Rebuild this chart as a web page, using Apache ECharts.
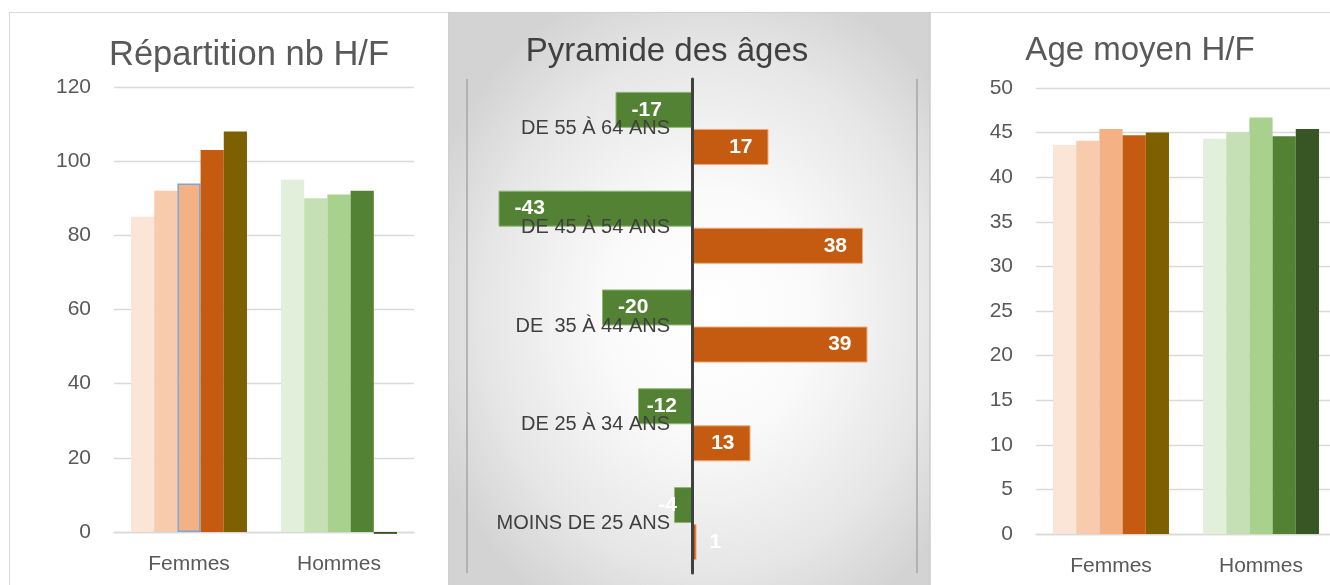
<!DOCTYPE html>
<html>
<head>
<meta charset="utf-8">
<script src="https://cdn.jsdelivr.net/npm/echarts@6/dist/echarts.min.js"></script>
<style>
  html, body { margin: 0; padding: 0; background: #fff; overflow: hidden; width: 1330px; height: 585px; }
  .panel { position: absolute; top: 12px; height: 600px; border: 1px solid #d9d9d9; box-sizing: border-box; }
  #nb { left: 9px; width: 440px; background: #fff; }
  #pyr { left: 448px; width: 482px; border-color: #cfcfcf;
         background: radial-gradient(ellipse 62% 58% at 54% 50%, #ffffff 0%, #fafafa 35%, #e6e6e6 75%, #d3d3d3 100%); }
  #age { left: 930px; width: 430px; background: #fff; }
</style>
</head>
<body>
<div id="nb" class="panel"></div>
<div id="pyr" class="panel"></div>
<div id="age" class="panel"></div>
<script>
// categories
var sexes = ['Femmes', 'Hommes'];
var tranches = ['MOINS DE 25 ANS', 'DE 25 À 34 ANS', 'DE  35 À 44 ANS', 'DE 45 À 54 ANS', 'DE 55 À 64 ANS'];

// Répartition nb H/F (5 séries par sexe)
var nbFemmes = [85, 92, 94, 103, 108];
var nbHommes = [95, 90, 91, 92, -0.5];

// Age moyen H/F
var ageFemmes = [43.6, 44.1, 45.4, 44.7, 45.0];
var ageHommes = [44.3, 45.0, 46.7, 44.6, 45.4];

// Pyramide des âges
var pyrHommes = [-4, -12, -20, -43, -17];
var pyrFemmes = [1, 13, 39, 38, 17];

// tick labels
var nbTicks = [0, 20, 40, 60, 80, 100, 120];
var ageTicks = [0, 5, 10, 15, 20, 25, 30, 35, 40, 45, 50];

var FONT = 'Liberation Sans';
var colFemmes = ['#FBE5D6', '#F8CBAD', '#F4B183', '#C55A11', '#7F6000'];
var colHommes = ['#E2EFDA', '#C5E0B4', '#A9D18E', '#548235', '#375623'];

function groupSeries(fem, hom, selected) {
    var series = [];
    for (var i = 0; i < fem.length; i++) {
        var femItem = {value: fem[i], itemStyle: {color: colFemmes[i]}};
        if (i === selected) {
            femItem.itemStyle.borderColor = '#7aa6d6';
            femItem.itemStyle.borderWidth = 1.5;
        }
        series.push({
            name: 'Série ' + (i + 1),
            type: 'bar',
            barGap: 0,
            barCategoryGap: '22.7%',
            clip: false,
            data: [femItem, {value: hom[i], itemStyle: {color: colHommes[i]}}]
        });
    }
    return series;
}

function columnChart(id, titleText, titleSize, titleX, titleY, grid, ticks, fem, hom, selected) {
    var chart = echarts.init(document.getElementById(id));
    chart.setOption({
        backgroundColor: 'transparent',
        animation: false,
        title: {
            text: titleText,
            left: titleX,
            top: titleY,
            textAlign: 'center',
            padding: 0,
            textStyle: {fontFamily: FONT, fontSize: titleSize, fontWeight: 'normal', color: '#595959'}
        },
        grid: grid,
        xAxis: {
            type: 'category',
            data: sexes,
            axisLine: {lineStyle: {color: '#d9d9d9', width: 1.3}},
            axisTick: {show: false},
            axisLabel: {fontFamily: FONT, fontSize: 21, color: '#595959', margin: 22}
        },
        yAxis: {
            type: 'value',
            min: ticks[0],
            max: ticks[ticks.length - 1],
            interval: ticks[1] - ticks[0],
            axisLine: {show: false},
            axisTick: {show: false},
            splitLine: {lineStyle: {color: '#d9d9d9', width: 1.3}},
            axisLabel: {fontFamily: FONT, fontSize: 21, color: '#595959', margin: 23}
        },
        series: groupSeries(fem, hom, selected)
    });
}

columnChart('nb', 'Répartition nb H/F', 34.5, 239, 25,
    {left: 104, top: 74, width: 300, height: 445, outerBoundsMode: 'none'}, nbTicks, nbFemmes, nbHommes, 2);

columnChart('age', 'Age moyen H/F', 33, 209, 21,
    {left: 105, top: 75, width: 300, height: 446, outerBoundsMode: 'none'}, ageTicks, ageFemmes, ageHommes, -1);

// pyramide
var pyr = echarts.init(document.getElementById('pyr'));
pyr.setOption({
    backgroundColor: 'transparent',
    animation: false,
    title: {
        text: 'Pyramide des âges',
        left: 218,
        top: 22,
        textAlign: 'center',
        padding: 0,
        textStyle: {fontFamily: FONT, fontSize: 33, fontWeight: 'normal', color: '#404040'}
    },
    grid: {left: 18, top: 66, width: 450, height: 494, outerBoundsMode: 'none'},
    xAxis: {
        type: 'value',
        min: -50,
        max: 50,
        interval: 50,
        axisLine: {show: false},
        axisTick: {show: false},
        axisLabel: {show: false},
        splitLine: {lineStyle: {color: '#a6a6a6', width: 1.5}}
    },
    yAxis: {
        type: 'category',
        data: tranches,
        z: 3,
        offset: -225,
        axisLine: {onZero: false, lineStyle: {color: '#404040', width: 3}},
        axisTick: {show: false},
        axisLabel: {fontFamily: FONT, fontSize: 20, color: '#404040', margin: 22}
    },
    series: [
        {
            name: 'Hommes',
            type: 'bar',
            barWidth: 36,
            barGap: '3%',
            itemStyle: {color: '#548235', borderColor: '#8db870', borderWidth: 1},
            label: {show: true, color: '#fff', fontFamily: FONT, fontSize: 21, fontWeight: 'bold'},
            data: pyrHommes.map(function (v) {
                return {
                    value: v,
                    label: Math.abs(v) >= 15
                        ? {position: 'insideLeft', distance: 16}
                        : {position: 'insideRight', distance: 15}
                };
            })
        },
        {
            name: 'Femmes',
            type: 'bar',
            barWidth: 36,
            barGap: '3%',
            itemStyle: {color: '#C55A11', borderColor: '#f0a878', borderWidth: 1},
            label: {show: true, color: '#fff', fontFamily: FONT, fontSize: 21, fontWeight: 'bold'},
            data: pyrFemmes.map(function (v) {
                return {
                    value: v,
                    label: v >= 5
                        ? {position: 'insideRight', distance: 16}
                        : {position: 'right', distance: 13}
                };
            })
        }
    ]
});
</script>
</body>
</html>
